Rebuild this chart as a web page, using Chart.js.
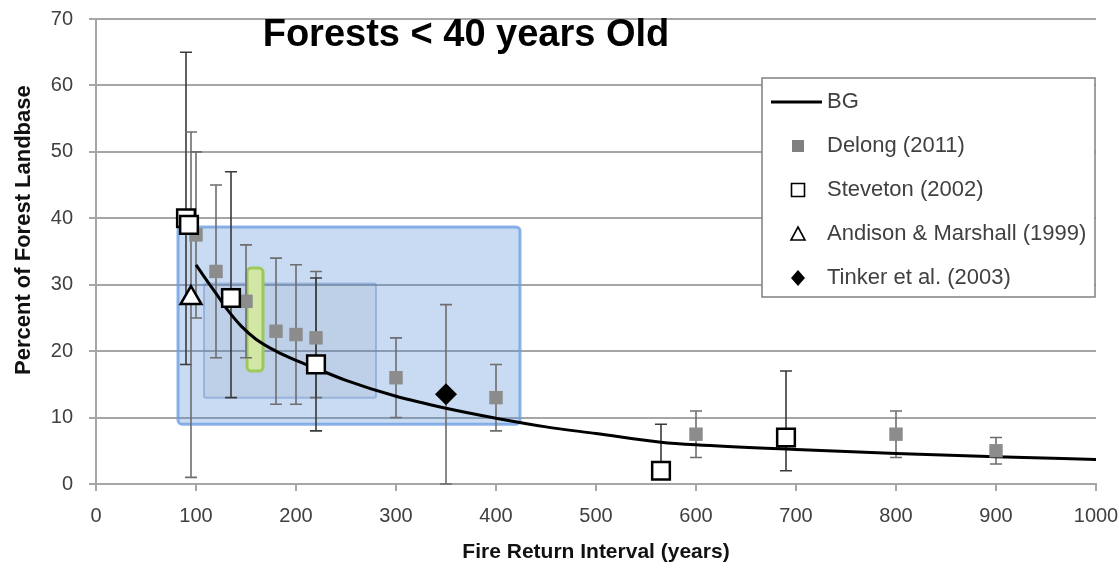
<!DOCTYPE html>
<html>
<head>
<meta charset="utf-8">
<script src="https://cdn.jsdelivr.net/npm/chart.js@4.4.1/dist/chart.umd.min.js"></script>
<style>
  html, body { margin: 0; padding: 0; background: #fff; }
</style>
</head>
<body>
<canvas id="frChart" width="1119" height="569"></canvas>
<script>
// BG model curve
const bgX = [100, 110, 120, 130, 145, 160, 180, 200, 220, 250, 300, 350, 400, 450, 500, 565, 600, 700, 800, 900, 1000];
const bgY = [33, 30.8, 28.7, 26.5, 23.8, 21.8, 20.0, 18.6, 17.4, 15.6, 13.2, 11.4, 9.9, 8.6, 7.6, 6.3, 5.9, 5.2, 4.6, 4.1, 3.7];

// Delong (2011)
const delongX  = [100, 120, 150, 180, 200, 220, 300, 400, 600, 800, 900];
const delongY  = [37.5, 32, 27.5, 23, 22.5, 22, 16, 13, 7.5, 7.5, 5];
const delongLo = [25, 19, 19, 12, 12, 13, 10, 8, 4, 4, 3];
const delongHi = [50, 45, 36, 34, 33, 32, 22, 18, 11, 11, 7];

// Steventon (2002)
const stevX  = [90, 93, 135, 220, 565, 690];
const stevY  = [40, 39, 28, 18, 2, 7];
const stevLo = [18, null, 13, 8, 2, 2];
const stevHi = [65, null, 47, 31, 9, 17];

// Andison & Marshall (1999)
const andX  = [95];
const andY  = [28];
const andLo = [1];
const andHi = [53];

// Tinker et al. (2003)
const tinkX  = [350];
const tinkY  = [13.5];
const tinkLo = [0];
const tinkHi = [27];

// shaded ranges: [x from, x to, y from, y to]
const rangeOuter = [82, 424, 9, 38.7];
const rangeInner = [108, 280, 13, 30.2];
const rangeGreen = [151, 167, 17, 32.5];

const seriesNames = ['BG', 'Delong (2011)', 'Steveton (2002)', 'Andison & Marshall (1999)', 'Tinker et al. (2003)'];
const chartTitle = 'Forests < 40 years Old';

const FONT = "'Liberation Sans', Arial, sans-serif";

function pts(xs, ys) {
    return xs.map((x, i) => ({ x: x, y: ys[i] }));
}

const rangesPlugin = {
    id: 'ranges',
    beforeDatasetsDraw(chart) {
        const { ctx, scales: { x, y } } = chart;
        const box = (r, fill, stroke, lw, rad) => {
            const x0 = x.getPixelForValue(r[0]), x1 = x.getPixelForValue(r[1]);
            const y0 = y.getPixelForValue(r[3]), y1 = y.getPixelForValue(r[2]);
            ctx.save();
            ctx.beginPath();
            ctx.roundRect(x0, y0, x1 - x0, y1 - y0, rad);
            ctx.fillStyle = fill;
            ctx.fill();
            ctx.lineWidth = lw;
            ctx.strokeStyle = stroke;
            ctx.stroke();
            ctx.restore();
        };
        box(rangeOuter, 'rgba(70,130,210,0.29)', 'rgba(110,160,225,0.8)', 3, 4);
        box(rangeInner, 'rgba(90,110,140,0.10)', 'rgba(100,140,200,0.45)', 2, 2);
        box(rangeGreen, '#d2e6a6', '#9dc85a', 3, 4);

        // error bars
        chart.data.datasets.forEach(ds => {
            if (!ds.errLo) return;
            ctx.save();
            ctx.strokeStyle = ds.errColor;
            ctx.lineWidth = 1.6;
            ds.data.forEach((p, i) => {
                const lo = ds.errLo[i], hi = ds.errHi[i];
                if (lo == null) return;
                const px = x.getPixelForValue(p.x);
                const p0 = y.getPixelForValue(lo), p1 = y.getPixelForValue(hi);
                ctx.beginPath();
                ctx.moveTo(px, p0); ctx.lineTo(px, p1);
                ctx.moveTo(px - 6, p0); ctx.lineTo(px + 6, p0);
                ctx.moveTo(px - 6, p1); ctx.lineTo(px + 6, p1);
                ctx.stroke();
            });
            ctx.restore();
        });
    }
};

const titleLegendPlugin = {
    id: 'titleLegend',
    afterDraw(chart) {
        const { ctx, chartArea } = chart;
        ctx.save();
        // title inside the plot
        ctx.font = 'bold 38px ' + FONT;
        ctx.fillStyle = '#000';
        ctx.textAlign = 'center';
        ctx.textBaseline = 'middle';
        ctx.fillText(chartTitle, chartArea.left + 370, 36);

        // legend box
        const bx = 762, by = 78, bw = 333, bh = 219;
        ctx.fillStyle = '#fff';
        ctx.fillRect(bx, by, bw, bh);
        ctx.strokeStyle = '#808080';
        ctx.lineWidth = 1.5;
        ctx.strokeRect(bx, by, bw, bh);

        ctx.font = '22px ' + FONT;
        ctx.textAlign = 'left';
        ctx.textBaseline = 'middle';
        seriesNames.forEach((name, i) => {
            const cy = by + 24 + i * 44;
            const mx = 798;
            ctx.fillStyle = '#404040';
            ctx.fillText(name, 827, cy);
            ctx.lineWidth = 1.6;
            ctx.strokeStyle = '#000';
            ctx.beginPath();
            if (i === 0) {
                ctx.lineWidth = 3;
                ctx.moveTo(771, cy); ctx.lineTo(822, cy);
                ctx.stroke();
            } else if (i === 1) {
                ctx.fillStyle = '#808080';
                ctx.fillRect(mx - 6, cy - 6, 12, 12);
            } else if (i === 2) {
                ctx.fillStyle = '#fff';
                ctx.rect(mx - 6.5, cy - 6.5, 13, 13);
                ctx.fill(); ctx.stroke();
            } else if (i === 3) {
                ctx.fillStyle = '#fff';
                ctx.moveTo(mx, cy - 7); ctx.lineTo(mx + 7, cy + 6); ctx.lineTo(mx - 7, cy + 6); ctx.closePath();
                ctx.fill(); ctx.stroke();
            } else {
                ctx.fillStyle = '#000';
                ctx.moveTo(mx, cy - 8); ctx.lineTo(mx + 7, cy); ctx.lineTo(mx, cy + 8); ctx.lineTo(mx - 7, cy); ctx.closePath();
                ctx.fill();
            }
        });
        ctx.restore();
    }
};

const gridColor = '#a6a6a6';

new Chart(document.getElementById('frChart'), {
    type: 'scatter',
    data: {
        datasets: [
            {
                label: seriesNames[0], type: 'line', data: pts(bgX, bgY),
                borderColor: '#000', borderWidth: 3, pointRadius: 0,
                cubicInterpolationMode: 'monotone', fill: false, order: 10
            },
            {
                label: seriesNames[1], data: pts(delongX, delongY),
                pointStyle: 'rect', pointRadius: 9.5, backgroundColor: '#8c8c8c', borderColor: '#8c8c8c', borderWidth: 0,
                errLo: delongLo, errHi: delongHi, errColor: '#6e6e6e', order: 5
            },
            {
                label: seriesNames[2], data: pts(stevX, stevY),
                pointStyle: 'rect', pointRadius: 12.5, backgroundColor: '#fff', borderColor: '#000', borderWidth: 2.5,
                errLo: stevLo, errHi: stevHi, errColor: '#3a3a3a', order: 2
            },
            {
                label: seriesNames[3], data: pts(andX, andY),
                pointStyle: 'triangle', pointRadius: 12, backgroundColor: '#fff', borderColor: '#000', borderWidth: 2.5,
                errLo: andLo, errHi: andHi, errColor: '#6e6e6e', order: 3
            },
            {
                label: seriesNames[4], data: pts(tinkX, tinkY),
                pointStyle: 'rectRot', pointRadius: 11, backgroundColor: '#000', borderColor: '#000', borderWidth: 0,
                errLo: tinkLo, errHi: tinkHi, errColor: '#6e6e6e', order: 1
            }
        ]
    },
    options: {
        responsive: false,
        animation: false,
        devicePixelRatio: 1,
        layout: { padding: { left: 0, right: 23, top: 19, bottom: 0 } },
        plugins: {
            legend: { display: false },
            tooltip: { enabled: false }
        },
        scales: {
            x: {
                type: 'linear', min: 0, max: 1000,
                afterFit: (s) => { s.height = 85; s.paddingLeft = 0; s.paddingRight = 0; },
                ticks: { stepSize: 100, color: '#404040', font: { family: FONT, size: 20 }, padding: 13, callback: (v) => String(v) },
                grid: { drawOnChartArea: false, drawTicks: true, tickLength: 7, color: gridColor, lineWidth: 2 },
                border: { display: true, color: gridColor, width: 2 },
                title: { display: true, text: 'Fire Return Interval (years)', color: '#111', font: { family: FONT, size: 21, weight: 'bold' }, padding: { top: 4, bottom: 4 } }
            },
            y: {
                min: 0, max: 70,
                afterFit: (s) => { s.width = 96; s.paddingTop = 0; s.paddingBottom = 0; },
                ticks: { stepSize: 10, color: '#404040', font: { family: FONT, size: 20 }, padding: 16 },
                grid: { color: gridColor, lineWidth: 2, tickLength: 7 },
                border: { display: true, color: gridColor, width: 2 },
                title: { display: true, text: '       Percent of Forest Landbase', color: '#111', font: { family: FONT, size: 22, weight: 'bold' }, padding: { top: 11, bottom: 4 } }
            }
        }
    },
    plugins: [rangesPlugin, titleLegendPlugin]
});
</script>
</body>
</html>
